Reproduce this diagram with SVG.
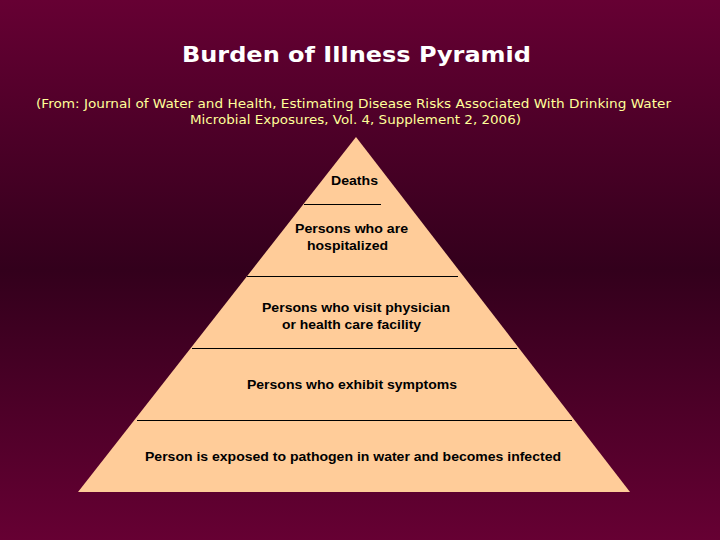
<svg xmlns="http://www.w3.org/2000/svg" width="720" height="540" viewBox="0 0 720 540">
<defs>
<linearGradient id="bg" x1="0" y1="0" x2="0" y2="1">
<stop offset="0" stop-color="#660033"/>
<stop offset="0.5" stop-color="#33001c"/>
<stop offset="1" stop-color="#660033"/>
</linearGradient>
<style>
.title{font-family:"DejaVu Sans",Verdana,sans-serif;font-weight:bold;font-size:21px;fill:#ffffff}
.sub{font-family:"DejaVu Sans",Verdana,sans-serif;font-size:11.5px;fill:#ffff99}
.lbl{font-family:"Liberation Sans",Arial,sans-serif;font-weight:bold;font-size:13px;fill:#000000}
.sep{stroke:#000000;stroke-width:1;fill:none}
</style>
</defs>
<rect x="0" y="0" width="720" height="540" fill="url(#bg)"/>
<text class="title" x="182" y="62" textLength="349" lengthAdjust="spacingAndGlyphs">Burden of Illness Pyramid</text>
<text class="sub" x="36" y="108" textLength="635" lengthAdjust="spacingAndGlyphs">(From: Journal of Water and Health, Estimating Disease Risks Associated With Drinking Water</text>
<text class="sub" x="190" y="124" textLength="331" lengthAdjust="spacingAndGlyphs">Microbial Exposures, Vol. 4, Supplement 2, 2006)</text>
<g id="pyramid">
<polygon points="356,137 630,492 78,492" fill="#ffcc99"/>
</g>
<g id="connectors">
<line class="sep" x1="304" y1="204.5" x2="381" y2="204.5"/>
<line class="sep" x1="247" y1="276.5" x2="458" y2="276.5"/>
<line class="sep" x1="192" y1="348.5" x2="517" y2="348.5"/>
<line class="sep" x1="137" y1="420.5" x2="572" y2="420.5"/>
</g>
<g id="n-deaths">
<text class="lbl" x="331" y="185" textLength="47" lengthAdjust="spacingAndGlyphs">Deaths</text>
</g>
<g id="n-hospital">
<text class="lbl" x="295" y="233" textLength="113" lengthAdjust="spacingAndGlyphs">Persons who are</text>
<text class="lbl" x="307" y="250" textLength="81" lengthAdjust="spacingAndGlyphs">hospitalized</text>
</g>
<g id="n-physician">
<text class="lbl" x="262" y="312" textLength="188" lengthAdjust="spacingAndGlyphs">Persons who visit physician</text>
<text class="lbl" x="282" y="329" textLength="139" lengthAdjust="spacingAndGlyphs">or health care facility</text>
</g>
<g id="n-symptoms">
<text class="lbl" x="247" y="389" textLength="210" lengthAdjust="spacingAndGlyphs">Persons who exhibit symptoms</text>
</g>
<g id="n-infected">
<text class="lbl" x="145" y="461" textLength="416" lengthAdjust="spacingAndGlyphs">Person is exposed to pathogen in water and becomes infected</text>
</g>
</svg>
